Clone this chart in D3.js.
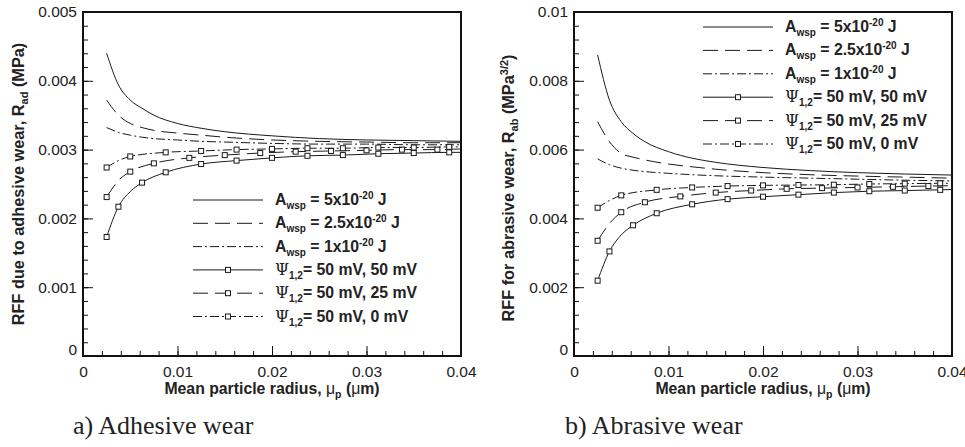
<!DOCTYPE html>
<html><head><meta charset="utf-8">
<script src="https://cdn.jsdelivr.net/npm/d3@7"></script>
<style>
html,body{margin:0;padding:0;background:#fff;}
svg{display:block;}
</style></head>
<body>
<svg id="chart" width="965" height="447"></svg>
<script>
// ---------- DATA ----------
const xTicks = [0, 0.01, 0.02, 0.03, 0.04];
const xTickLabels = ["0", "0.01", "0.02", "0.03", "0.04"];
const yTicksA = [0, 0.001, 0.002, 0.003, 0.004, 0.005];
const yTickLabelsA = ["0", "0.001", "0.002", "0.003", "0.004", "0.005"];
const yTicksB = [0, 0.002, 0.004, 0.006, 0.008, 0.01];
const yTickLabelsB = ["0", "0.002", "0.004", "0.006", "0.008", "0.01"];

// Hamaker-constant curves (no markers)
const xHam = [0.0025, 0.00375, 0.005, 0.00625, 0.0075, 0.01, 0.0125, 0.015, 0.02, 0.025, 0.03, 0.035, 0.04];
const adA5  = [0.00440, 0.00394, 0.00372, 0.00360, 0.00350, 0.00338, 0.00331, 0.00326, 0.00320, 0.00316, 0.00314, 0.00313, 0.00312];
const adA25 = [0.00372, 0.00350, 0.00338, 0.00332, 0.00328, 0.00324, 0.00321, 0.00318, 0.00314, 0.00312, 0.00311, 0.00310, 0.00310];
const adA1  = [0.00332, 0.00325, 0.00321, 0.00318, 0.00316, 0.00314, 0.00312, 0.00311, 0.00309, 0.00308, 0.00308, 0.00307, 0.00307];
const abA5  = [0.00875, 0.00744, 0.00681, 0.00647, 0.00623, 0.00594, 0.00575, 0.00563, 0.00548, 0.00539, 0.00533, 0.00529, 0.00526];
const abA25 = [0.00681, 0.00623, 0.00589, 0.00578, 0.00570, 0.00558, 0.00550, 0.00543, 0.00533, 0.00527, 0.00523, 0.00520, 0.00517];
const abA1  = [0.00573, 0.00556, 0.00546, 0.00540, 0.00536, 0.00531, 0.00527, 0.00524, 0.00520, 0.00517, 0.00514, 0.00511, 0.00509];

// Surface-potential curves (with square symbols; mark flag 1 = symbol drawn)
const xPsi50 = [0.0025, 0.00375, 0.005, 0.00625, 0.00875, 0.0125, 0.01625, 0.02, 0.02375, 0.0275, 0.03125, 0.035, 0.03875, 0.04];
const markPsi50 = [1, 1, 0, 1, 1, 1, 1, 1, 1, 1, 1, 1, 1, 0];
const adPsi50 = [0.00173, 0.00217, 0.00239, 0.00252, 0.00267, 0.00279, 0.00284, 0.00288, 0.00291, 0.00292, 0.00294, 0.00295, 0.00296, 0.00296];
const abPsi50 = [0.00219, 0.00304, 0.00352, 0.00380, 0.00415, 0.00441, 0.00456, 0.00463, 0.00469, 0.00475, 0.00479, 0.00481, 0.00483, 0.00484];

const xPsi25 = [0.0025, 0.00375, 0.005, 0.0075, 0.01125, 0.015, 0.01875, 0.0225, 0.02625, 0.03, 0.03375, 0.0375, 0.04];
const markPsi25 = [1, 0, 1, 1, 1, 1, 1, 1, 1, 1, 1, 1, 0];
const adPsi25 = [0.00231, 0.00255, 0.00268, 0.00280, 0.00288, 0.00292, 0.00295, 0.00297, 0.00298, 0.00299, 0.00300, 0.00300, 0.00301];
const abPsi25 = [0.00335, 0.00385, 0.00418, 0.00447, 0.00464, 0.00475, 0.00481, 0.00486, 0.00488, 0.00490, 0.00492, 0.00494, 0.00495];

const xPsi0 = [0.0025, 0.00375, 0.005, 0.00875, 0.0125, 0.01625, 0.02, 0.02375, 0.0275, 0.03125, 0.035, 0.03875, 0.04];
const markPsi0 = [1, 0, 1, 1, 1, 1, 1, 1, 1, 1, 1, 1, 0];
const adPsi0 = [0.00274, 0.00284, 0.00290, 0.00296, 0.00298, 0.00300, 0.00301, 0.00302, 0.00302, 0.00303, 0.00303, 0.00304, 0.00304];
const abPsi0 = [0.00431, 0.00452, 0.00467, 0.00483, 0.00490, 0.00494, 0.00496, 0.00497, 0.00498, 0.00500, 0.00501, 0.00502, 0.00502];

const legendMain = ["A", "A", "A", "\u03A8", "\u03A8", "\u03A8"];
const legendSub = ["wsp", "wsp", "wsp", "1,2", "1,2", "1,2"];
const legendMid = [" = 5x10", " = 2.5x10", " = 1x10", "= 50 mV, 50 mV", "= 50 mV, 25 mV", "= 50 mV, 0 mV"];
const legendSup = ["-20", "-20", "-20", "", "", ""];
const legendEnd = [" J", " J", " J", "", "", ""];

// ---------- DRAW ----------
const svg = d3.select("#chart");
const DASH = { solid: null, dash: "15,7", dashdot: "9,3,2,3" };
const SANS = "Liberation Sans, Arial, Helvetica, sans-serif";

function drawPanel(opt) {
  const g = svg.append("g");
  const x = d3.scaleLinear().domain([0, 0.04]).range([opt.left, opt.right]);
  const y = d3.scaleLinear().domain([0, opt.ymax]).range([opt.bottom, opt.top]);

  // series
  const line = d3.line().x(d => x(d[0])).y(d => y(d[1])).curve(d3.curveMonotoneX);
  const clip = "clip" + opt.id;
  svg.append("clipPath").attr("id", clip).append("rect")
    .attr("x", opt.left).attr("y", opt.top).attr("width", opt.right - opt.left).attr("height", opt.bottom - opt.top);
  const sg = g.append("g").attr("clip-path", `url(#${clip})`);
  opt.series.forEach(s => {
    const pts = s.x.map((v, i) => [v, s.y[i], s.m ? s.m[i] : 0]);
    sg.append("path").attr("d", line(pts)).attr("fill", "none")
      .attr("stroke", "#1a1a1a").attr("stroke-width", 1)
      .attr("stroke-dasharray", DASH[s.style]);
    sg.selectAll(null).data(pts.filter(p => p[2])).enter().append("rect")
      .attr("x", d => x(d[0]) - 2.5).attr("y", d => y(d[1]) - 2.5)
      .attr("width", 5).attr("height", 5)
      .attr("fill", "#fff").attr("stroke", "#1a1a1a").attr("stroke-width", 1);
  });

  // axes ticks (inward)
  const ax = g.append("g").attr("transform", `translate(0,${opt.bottom})`)
    .call(d3.axisBottom(x).tickValues(d3.range(0, 0.0401, 0.002)).tickSize(-5).tickFormat(""));
  ax.select(".domain").remove();
  ax.selectAll("line").attr("stroke", "#111");
  const axM = g.append("g").attr("transform", `translate(0,${opt.bottom})`)
    .call(d3.axisBottom(x).tickValues(xTicks).tickSize(-10).tickPadding(16).tickFormat((d, i) => xTickLabels[i]));
  axM.select(".domain").remove();
  axM.selectAll("line").attr("stroke", "#111");
  axM.selectAll("text").attr("font-family", SANS).attr("font-size", 15.5).attr("fill", "#222").attr("dy", "0.35em");

  const ay = g.append("g").attr("transform", `translate(${opt.left},0)`)
    .call(d3.axisLeft(y).tickValues(d3.range(0, opt.ymax * 1.0001, opt.ymax / 25)).tickSize(-5).tickFormat(""));
  ay.select(".domain").remove();
  ay.selectAll("line").attr("stroke", "#111");
  const ayM = g.append("g").attr("transform", `translate(${opt.left},0)`)
    .call(d3.axisLeft(y).tickValues(opt.yTicks).tickSize(-10).tickPadding(6).tickFormat((d, i) => opt.yLabels[i]));
  ayM.select(".domain").remove();
  ayM.selectAll("line").attr("stroke", "#111");
  ayM.selectAll("text").attr("font-family", SANS).attr("font-size", 15.5).attr("fill", "#222");
  ayM.selectAll(".tick").filter(d => d === 0).select("text").attr("dy", "-0.1em");

  // frame
  g.append("rect").attr("x", opt.left).attr("y", opt.top)
    .attr("width", opt.right - opt.left).attr("height", opt.bottom - opt.top)
    .attr("fill", "none").attr("stroke", "#111").attr("stroke-width", 2);

  // x label
  const xl = g.append("text").attr("x", (opt.left + opt.right) / 2).attr("y", opt.bottom + 38)
    .attr("text-anchor", "middle").attr("font-family", SANS)
    .attr("font-weight", "bold").attr("font-size", 15.8).attr("fill", "#222");
  xl.append("tspan").text("Mean particle radius, ");
  xl.append("tspan").text("\u03BC").attr("font-weight", "normal");
  xl.append("tspan").text("p").attr("font-size", 10.5).attr("dy", 4);
  xl.append("tspan").text(" (").attr("dy", -4);
  xl.append("tspan").text("\u03BC").attr("font-weight", "normal");
  xl.append("tspan").text("m)");

  // y label
  const yl = g.append("text").attr("transform", `translate(${opt.ylabX},${(opt.top + opt.bottom) / 2 + opt.ylabShift}) rotate(-90)`)
    .attr("text-anchor", "middle").attr("font-family", SANS)
    .attr("font-weight", "bold").attr("font-size", 16.3).attr("fill", "#222");
  opt.ylabParts.forEach(p => {
    const t = yl.append("tspan").text(p.t);
    if (p.fs) t.attr("font-size", p.fs);
    if (p.dy) t.attr("dy", p.dy);
  });

  // legend
  const lg = g.append("g");
  opt.series.forEach((s, i) => {
    const yy = opt.legY + i * opt.legDy;
    lg.append("line").attr("x1", opt.legX).attr("x2", opt.legX + 70).attr("y1", yy).attr("y2", yy)
      .attr("stroke", "#1a1a1a").attr("stroke-width", 1).attr("stroke-dasharray", DASH[s.style]);
    if (s.m) {
      lg.append("rect").attr("x", opt.legX + 35 - 2.5).attr("y", yy - 2.5).attr("width", 5).attr("height", 5)
        .attr("fill", "#fff").attr("stroke", "#1a1a1a");
    }
    const t = lg.append("text").attr("x", opt.legX + 82).attr("y", yy + 5)
      .attr("font-family", SANS).attr("font-weight", "bold")
      .attr("font-size", 15.8).attr("fill", "#222");
    const main = t.append("tspan").text(legendMain[i]);
    if (i >= 3) main.attr("font-family", "DejaVu Serif, serif").attr("font-weight", "normal").attr("font-size", 16);
    t.append("tspan").text(legendSub[i]).attr("font-size", 10).attr("dy", 4);
    t.append("tspan").text(legendMid[i]).attr("dy", -4);
    if (legendSup[i]) {
      t.append("tspan").text(legendSup[i]).attr("font-size", 10).attr("dy", -6);
      t.append("tspan").text(legendEnd[i]).attr("dy", 6);
    }
  });

  // caption
  g.append("text").attr("x", opt.capX).attr("y", 434)
    .attr("font-family", "Liberation Serif, Times New Roman, serif").attr("font-size", 26).attr("fill", "#222")
    .text(opt.caption);
}

drawPanel({
  id: "A", left: 83, right: 461, top: 12, bottom: 356, ymax: 0.005,
  yTicks: yTicksA, yLabels: yTickLabelsA,
  series: [
    { x: xHam, y: adA5, style: "solid" },
    { x: xHam, y: adA25, style: "dash" },
    { x: xHam, y: adA1, style: "dashdot" },
    { x: xPsi50, y: adPsi50, m: markPsi50, style: "solid" },
    { x: xPsi25, y: adPsi25, m: markPsi25, style: "dash" },
    { x: xPsi0, y: adPsi0, m: markPsi0, style: "dashdot" }
  ],
  legX: 193, legY: 200, legDy: 23.3,
  ylabX: 24, ylabShift: 0,
  ylabParts: [{ t: "RFF due to adhesive wear, R" }, { t: "ad", fs: 11, dy: 4 }, { t: " (MPa)", dy: -4 }],
  capX: 73, caption: "a) Adhesive wear"
});

drawPanel({
  id: "B", left: 574, right: 952, top: 12, bottom: 356, ymax: 0.01,
  yTicks: yTicksB, yLabels: yTickLabelsB,
  series: [
    { x: xHam, y: abA5, style: "solid" },
    { x: xHam, y: abA25, style: "dash" },
    { x: xHam, y: abA1, style: "dashdot" },
    { x: xPsi50, y: abPsi50, m: markPsi50, style: "solid" },
    { x: xPsi25, y: abPsi25, m: markPsi25, style: "dash" },
    { x: xPsi0, y: abPsi0, m: markPsi0, style: "dashdot" }
  ],
  legX: 703, legY: 27, legDy: 23.4,
  ylabX: 514, ylabShift: 4,
  ylabParts: [{ t: "RFF for abrasive wear, R" }, { t: "ab", fs: 11, dy: 4 }, { t: " (MPa", dy: -4 }, { t: "3/2", fs: 11, dy: -6 }, { t: ")", dy: 6 }],
  capX: 565, caption: "b) Abrasive wear"
});
</script>
</body></html>
